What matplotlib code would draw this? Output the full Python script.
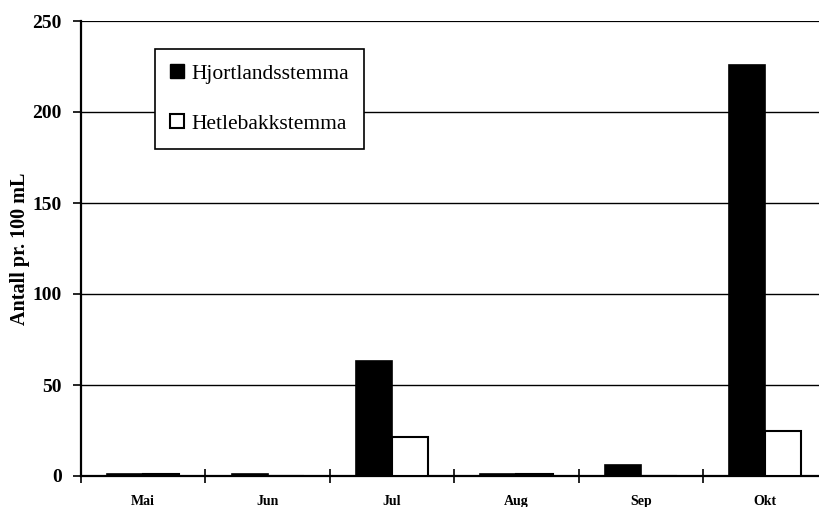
import matplotlib
matplotlib.use("Agg")
import matplotlib.pyplot as plt
import numpy as np
from matplotlib.patches import Patch
from matplotlib.font_manager import FontProperties

months = ["Mai", "Jun", "Jul", "Aug", "Sep", "Okt"]
hjortland = [1, 1, 63, 1, 6, 226]
hetlebakk = [1, 0, 21.5, 1, 0, 25]
series_names = ["Hjortlandsstemma", "Hetlebakkstemma"]
yticks = [0, 50, 100, 150, 200, 250]

plt.rcParams['font.family'] = ['Liberation Serif', 'DejaVu Serif']

fig = plt.figure(figsize=(8.19, 5.07), dpi=100)
ax_left, ax_right = 81, 827.5
ax = fig.add_axes([ax_left/819, 1-476/507, (ax_right-ax_left)/819, (476-21)/507])

x = np.arange(len(months))
w = 0.29
ax.bar(x - w/2, hjortland, width=w, color='black', edgecolor='black', linewidth=1.2, zorder=3)
ax.bar(x + w/2, hetlebakk, width=w, color='white', edgecolor='black', linewidth=1.5, zorder=3)

ax.set_xlim(-0.5, len(months) - 0.5)
ax.set_ylim(0, 250)
ax.set_yticks(yticks)
ax.set_yticklabels([str(v) for v in yticks], fontsize=14, fontweight='bold')
for v in yticks[1:]:
    ax.axhline(v, color='black', linewidth=1.6 if v == 250 else 1.0, zorder=1)

ax.set_xticks(x)
ax.set_xticklabels(months, fontsize=10, fontweight='bold')
ax.tick_params(axis='x', which='major', length=0, pad=14)
ax.set_xticks(np.arange(-0.5, len(months) + 0.5, 1), minor=True)
ax.tick_params(axis='x', which='minor', length=10, direction='inout', width=1.2)
ax.tick_params(axis='y', length=6, direction='out', width=1.2, pad=8)

for s in ['top', 'right']:
    ax.spines[s].set_visible(False)
ax.spines['left'].set_linewidth(1.6)
ax.spines['bottom'].set_linewidth(1.6)

ax.set_ylabel("Antall pr. 100 mL", fontsize=14.5, fontweight='bold')
ax.yaxis.set_label_coords((30 - ax_left) / (ax_right - ax_left), 0.5)

handles = [Patch(facecolor='black', edgecolor='black'),
           Patch(facecolor='white', edgecolor='black', linewidth=1.5)]
leg = fig.legend(handles, series_names, loc='upper left',
                 bbox_to_anchor=(155/819, 1-49/507), bbox_transform=fig.transFigure,
                 prop=FontProperties(family='Liberation Serif', size=15.5),
                 frameon=True, fancybox=False, edgecolor='black', framealpha=1,
                 handlelength=0.65, handleheight=0.65, handletextpad=0.35,
                 labelspacing=1.4, borderpad=0.7, borderaxespad=0)
leg.get_frame().set_linewidth(1.2)

fig.savefig("out.png", dpi=100, facecolor='white')
